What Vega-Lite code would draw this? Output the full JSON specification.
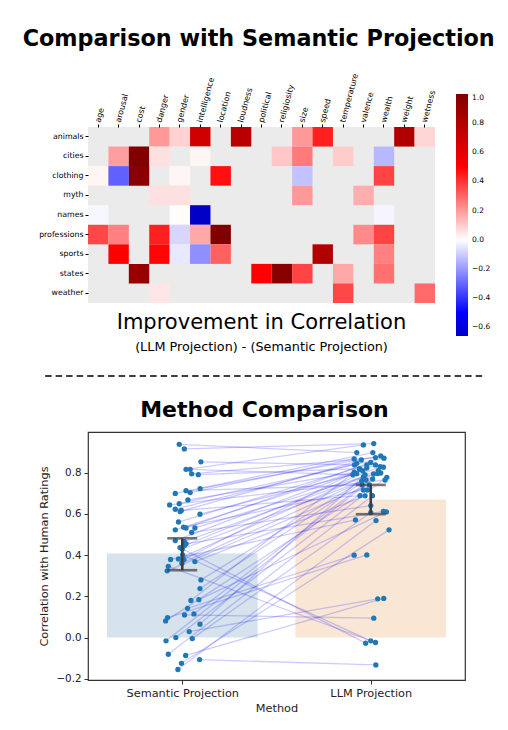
{
"$schema": "https://vega.github.io/schema/vega-lite/v6.json",
"background": "white",
"padding": {"left": 22, "top": 28, "right": 5, "bottom": 5},
"title": {"text": "Comparison with Semantic Projection", "fontSize": 22.3, "font": "DejaVu Sans", "fontWeight": "bold", "anchor": "middle", "offset": 22, "dx": -6, "color": "black"},
"config": {"font": "DejaVu Sans", "view": {"stroke": null}},
"spacing": 21,
"datasets": {
"heat": [
{"cat":"animals","dim":"danger","v":0.2},{"cat":"animals","dim":"gender","v":0.09},{"cat":"animals","dim":"intelligence","v":0.68},{"cat":"animals","dim":"loudness","v":0.78},{"cat":"animals","dim":"size","v":0.2},{"cat":"animals","dim":"speed","v":0.44},{"cat":"animals","dim":"weight","v":0.81},{"cat":"animals","dim":"wetness","v":0.08},
{"cat":"cities","dim":"arousal","v":0.19},{"cat":"cities","dim":"cost","v":1.0},{"cat":"cities","dim":"danger","v":0.06},{"cat":"cities","dim":"intelligence","v":0.02},{"cat":"cities","dim":"religiosity","v":0.11},{"cat":"cities","dim":"size","v":0.26},{"cat":"cities","dim":"temperature","v":0.1},{"cat":"cities","dim":"wealth","v":-0.14},
{"cat":"clothing","dim":"age","v":0.02},{"cat":"clothing","dim":"arousal","v":-0.31},{"cat":"clothing","dim":"cost","v":0.96},{"cat":"clothing","dim":"gender","v":0.02},{"cat":"clothing","dim":"location","v":0.47},{"cat":"clothing","dim":"size","v":-0.12},{"cat":"clothing","dim":"wealth","v":0.37},
{"cat":"myth","dim":"danger","v":0.06},{"cat":"myth","dim":"gender","v":0.06},{"cat":"myth","dim":"size","v":0.2},{"cat":"myth","dim":"valence","v":0.16},
{"cat":"names","dim":"age","v":-0.015},{"cat":"names","dim":"gender","v":0.005},{"cat":"names","dim":"intelligence","v":-0.66},{"cat":"names","dim":"wealth","v":-0.02},
{"cat":"professions","dim":"age","v":0.36},{"cat":"professions","dim":"arousal","v":0.25},{"cat":"professions","dim":"danger","v":0.44},{"cat":"professions","dim":"gender","v":-0.08},{"cat":"professions","dim":"intelligence","v":0.17},{"cat":"professions","dim":"location","v":1.0},{"cat":"professions","dim":"valence","v":0.23},{"cat":"professions","dim":"wealth","v":0.37},
{"cat":"sports","dim":"arousal","v":0.5},{"cat":"sports","dim":"danger","v":0.49},{"cat":"sports","dim":"gender","v":-0.045},{"cat":"sports","dim":"intelligence","v":-0.22},{"cat":"sports","dim":"location","v":0.31},{"cat":"sports","dim":"speed","v":0.81},{"cat":"sports","dim":"wealth","v":0.25},
{"cat":"states","dim":"cost","v":0.91},{"cat":"states","dim":"political","v":0.5},{"cat":"states","dim":"religiosity","v":0.97},{"cat":"states","dim":"size","v":0.37},{"cat":"states","dim":"temperature","v":0.17},{"cat":"states","dim":"wealth","v":0.28},
{"cat":"weather","dim":"danger","v":0.05},{"cat":"weather","dim":"temperature","v":0.36},{"cat":"weather","dim":"wetness","v":0.29}
],
"bars": [{"method":"Semantic Projection","x0":-0.4,"x1":0.4,"mean":0.408},{"method":"LLM Projection","x0":0.6,"x1":1.4,"mean":0.67}],
"err": [{"x":0,"lo":0.327,"hi":0.482},{"x":1,"lo":0.599,"hi":0.741}],
"pts": [
{"p":1,"x":0.092,"r":-0.107},{"p":1,"x":1.027,"r":-0.133},
{"p":2,"x":0.012,"r":0.11},{"p":2,"x":1.016,"r":0.094},
{"p":3,"x":-0.012,"r":0.437},{"p":3,"x":0.973,"r":-0.027},
{"p":4,"x":0.002,"r":0.401},{"p":4,"x":1.0,"r":-0.016},
{"p":5,"x":-0.074,"r":0.346},{"p":5,"x":1.025,"r":-0.024},
{"p":6,"x":0.037,"r":0.029},{"p":6,"x":1.037,"r":0.188},
{"p":7,"x":0.018,"r":-0.087},{"p":7,"x":1.069,"r":0.19},
{"p":8,"x":0.028,"r":0.142},{"p":8,"x":0.912,"r":0.4},
{"p":9,"x":-0.078,"r":0.097},{"p":9,"x":0.979,"r":0.401},
{"p":10,"x":-0.004,"r":-0.125},{"p":10,"x":1.097,"r":0.523},
{"p":11,"x":-0.016,"r":0.938},{"p":11,"x":0.926,"r":0.898},
{"p":12,"x":0.011,"r":0.916},{"p":12,"x":1.016,"r":0.942},
{"p":13,"x":0.099,"r":0.853},{"p":13,"x":0.914,"r":0.838},
{"p":14,"x":0.02,"r":0.817},{"p":14,"x":0.961,"r":0.935},
{"p":15,"x":0.042,"r":0.817},{"p":15,"x":0.905,"r":0.79},
{"p":16,"x":0.05,"r":0.795},{"p":16,"x":1.025,"r":0.874},
{"p":17,"x":0.085,"r":0.791},{"p":17,"x":0.94,"r":0.82},
{"p":18,"x":0.095,"r":0.723},{"p":18,"x":1.053,"r":0.882},
{"p":19,"x":0.02,"r":0.713},{"p":19,"x":0.954,"r":0.741},
{"p":20,"x":0.042,"r":0.704},{"p":20,"x":0.912,"r":0.867},
{"p":21,"x":-0.037,"r":0.70},{"p":21,"x":1.011,"r":0.898},
{"p":22,"x":0.03,"r":0.668},{"p":22,"x":0.958,"r":0.809},
{"p":23,"x":-0.016,"r":0.65},{"p":23,"x":1.07,"r":0.871},
{"p":24,"x":-0.067,"r":0.644},{"p":24,"x":1.076,"r":0.765},
{"p":25,"x":-0.037,"r":0.623},{"p":25,"x":0.926,"r":0.846},
{"p":26,"x":-0.005,"r":0.617},{"p":26,"x":0.943,"r":0.689},
{"p":27,"x":-0.011,"r":0.612},{"p":27,"x":0.95,"r":0.862},
{"p":28,"x":0.094,"r":0.599},{"p":28,"x":0.926,"r":0.796},
{"p":29,"x":-0.02,"r":0.561},{"p":29,"x":0.979,"r":0.838},
{"p":30,"x":0.007,"r":0.536},{"p":30,"x":0.961,"r":0.717},
{"p":31,"x":0.02,"r":0.532},{"p":31,"x":1.0,"r":0.85},
{"p":32,"x":0.067,"r":0.532},{"p":32,"x":0.961,"r":0.78},
{"p":33,"x":-0.037,"r":0.523},{"p":33,"x":0.979,"r":0.823},
{"p":34,"x":0.05,"r":0.51},{"p":34,"x":1.0,"r":0.641},
{"p":35,"x":-0.037,"r":0.471},{"p":35,"x":1.025,"r":0.838},
{"p":36,"x":0.011,"r":0.466},{"p":36,"x":1.015,"r":0.795},
{"p":37,"x":0.02,"r":0.455},{"p":37,"x":1.067,"r":0.612},
{"p":38,"x":0.011,"r":0.447},{"p":38,"x":1.05,"r":0.83},
{"p":39,"x":0.0,"r":0.43},{"p":39,"x":0.952,"r":0.76},
{"p":40,"x":-0.02,"r":0.382},{"p":40,"x":1.067,"r":0.827},
{"p":41,"x":-0.062,"r":0.379},{"p":41,"x":0.919,"r":0.571},
{"p":42,"x":0.009,"r":0.379},{"p":42,"x":0.944,"r":0.817},
{"p":43,"x":0.067,"r":0.369},{"p":43,"x":0.97,"r":0.688},
{"p":44,"x":-0.002,"r":0.361},{"p":44,"x":1.053,"r":0.799},
{"p":45,"x":-0.08,"r":0.324},{"p":45,"x":0.993,"r":0.741},
{"p":46,"x":0.099,"r":0.28},{"p":46,"x":1.04,"r":0.81},
{"p":47,"x":0.094,"r":0.238},{"p":47,"x":0.975,"r":0.765},
{"p":48,"x":0.088,"r":0.184},{"p":48,"x":1.083,"r":0.61},
{"p":49,"x":0.046,"r":0.18},{"p":49,"x":0.912,"r":0.803},
{"p":50,"x":0.062,"r":0.115},{"p":50,"x":1.037,"r":0.796},
{"p":51,"x":-0.088,"r":0.081},{"p":51,"x":0.982,"r":0.717},
{"p":52,"x":0.094,"r":0.065},{"p":52,"x":0.97,"r":0.79},
{"p":53,"x":-0.034,"r":0.0},{"p":53,"x":1.085,"r":0.778},
{"p":54,"x":0.053,"r":-0.005},{"p":54,"x":1.0,"r":0.607},
{"p":55,"x":-0.086,"r":-0.016},{"p":55,"x":1.01,"r":0.77},
{"p":56,"x":-0.074,"r":-0.081},{"p":56,"x":1.009,"r":0.689},
{"p":57,"x":-0.023,"r":-0.155},{"p":57,"x":1.028,"r":0.568}
]
},
"vconcat": [
{
"width": 347, "height": 176,
"view": {"fill": "#ebebeb", "stroke": null},
"title": {"text": "Improvement in Correlation", "subtitle": "(LLM Projection) - (Semantic Projection)", "orient": "bottom", "fontSize": 21, "fontWeight": "normal", "subtitleFontSize": 12.8, "offset": -24, "subtitlePadding": 8, "anchor": "middle", "color": "black", "subtitleColor": "black"},
"data": {"name": "heat"},
"mark": {"type": "rect"},
"encoding": {
"x": {"field": "dim", "type": "nominal", "sort": ["age","arousal","cost","danger","gender","intelligence","location","loudness","political","religiosity","size","speed","temperature","valence","wealth","weight","wetness"], "scale": {"domain": ["age","arousal","cost","danger","gender","intelligence","location","loudness","political","religiosity","size","speed","temperature","valence","wealth","weight","wetness"], "paddingInner": 0, "paddingOuter": 0}, "axis": {"orient": "top", "title": null, "labelAngle": -75, "labelAlign": "left", "labelBaseline": "middle", "labelFontSize": 8, "labelColor": "black", "domain": false, "tickSize": 3, "tickColor": "black", "labelPadding": 2}},
"y": {"field": "cat", "type": "nominal", "scale": {"domain": ["animals","cities","clothing","myth","names","professions","sports","states","weather"], "paddingInner": 0, "paddingOuter": 0}, "axis": {"title": null, "labelFontSize": 7.8, "labelColor": "black", "domain": false, "tickSize": 3, "tickColor": "black", "labelPadding": 2}},
"color": {"field": "v", "type": "quantitative", "scale": {"domain": [-0.66, -0.5, 0, 0.5, 1.0], "range": ["#0000c6", "#0000ff", "#ffffff", "#ff0000", "#800000"], "interpolate": "rgb"}, "legend": {"orient": "none", "legendX": 368, "legendY": -33, "title": null, "direction": "vertical", "gradientLength": 242, "gradientThickness": 12, "values": [-0.6,-0.4,-0.2,0,0.2,0.4,0.6,0.8,1.0], "format": ".1f", "labelFontSize": 7.5, "labelColor": "black", "labelOffset": 4, "gradientStrokeWidth": 0}}
}
},
{
"width": 397, "height": 1,
"data": {"values": [{}]},
"mark": {"type": "rule", "strokeDash": [6.5, 4], "color": "black", "strokeWidth": 1.4, "clip": false},
"encoding": {
"x": {"datum": -0.108, "type": "quantitative", "scale": {"domain": [0, 1], "nice": false, "zero": false}, "axis": null},
"x2": {"datum": 1},
"y": {"datum": 0, "type": "quantitative", "axis": null}
}
},
{
"width": 377, "height": 248,
"view": {"stroke": "#333333", "strokeWidth": 1.2},
"title": {"text": "Method Comparison", "fontSize": 22, "fontWeight": "bold", "anchor": "middle", "dx": -12, "offset": 10, "color": "black"},
"layer": [
{
"data": {"name": "bars"},
"mark": {"type": "rect"},
"encoding": {
"x": {"field": "x0", "type": "quantitative", "scale": {"domain": [-0.5, 1.5], "nice": false, "zero": false}, "axis": {"title": "Method", "values": [0, 1], "labelExpr": "datum.value == 0 ? 'Semantic Projection' : 'LLM Projection'", "grid": false, "domain": false, "tickSize": 4, "tickColor": "#333333", "labelFontSize": 11.3, "titleFontSize": 11.3, "titleFontWeight": "normal", "labelColor": "#222222", "titleColor": "#222222", "labelPadding": 3, "titlePadding": 4}},
"x2": {"field": "x1"},
"y": {"field": "mean", "type": "quantitative", "scale": {"domain": [-0.206, 0.998], "nice": false, "zero": false}, "axis": {"title": "Correlation with Human Ratings", "values": [-0.2, 0, 0.2, 0.4, 0.6, 0.8], "format": ".1f", "grid": false, "domain": false, "tickSize": 4, "tickColor": "#333333", "labelFontSize": 10.3, "titleFontSize": 11.3, "titleFontWeight": "normal", "labelColor": "#222222", "titleColor": "#222222", "labelPadding": 3, "titlePadding": 6}},
"y2": {"datum": 0},
"color": {"field": "method", "type": "nominal", "scale": {"domain": ["Semantic Projection", "LLM Projection"], "range": ["#d6e3ec", "#f9e6d5"]}, "legend": null}
}
},
{
"data": {"name": "pts"},
"mark": {"type": "line", "color": "#0000ff", "opacity": 0.2, "strokeWidth": 1.3},
"encoding": {"x": {"field": "x", "type": "quantitative"}, "y": {"field": "r", "type": "quantitative"}, "detail": {"field": "p", "type": "nominal"}}
},
{
"data": {"name": "pts"},
"mark": {"type": "circle", "color": "#1f77b4", "opacity": 1, "size": 28},
"encoding": {"x": {"field": "x", "type": "quantitative"}, "y": {"field": "r", "type": "quantitative"}}
},
{
"data": {"name": "err"},
"mark": {"type": "rule", "color": "#3d3d3d", "strokeWidth": 2.6},
"encoding": {"x": {"field": "x", "type": "quantitative"}, "y": {"field": "lo", "type": "quantitative"}, "y2": {"field": "hi"}}
},
{
"data": {"name": "err"},
"mark": {"type": "tick", "orient": "horizontal", "color": "#3d3d3d", "thickness": 2.6, "size": 30},
"encoding": {"x": {"field": "x", "type": "quantitative"}, "y": {"field": "lo", "type": "quantitative"}}
},
{
"data": {"name": "err"},
"mark": {"type": "tick", "orient": "horizontal", "color": "#3d3d3d", "thickness": 2.6, "size": 30},
"encoding": {"x": {"field": "x", "type": "quantitative"}, "y": {"field": "hi", "type": "quantitative"}}
}
]
}
]
}
